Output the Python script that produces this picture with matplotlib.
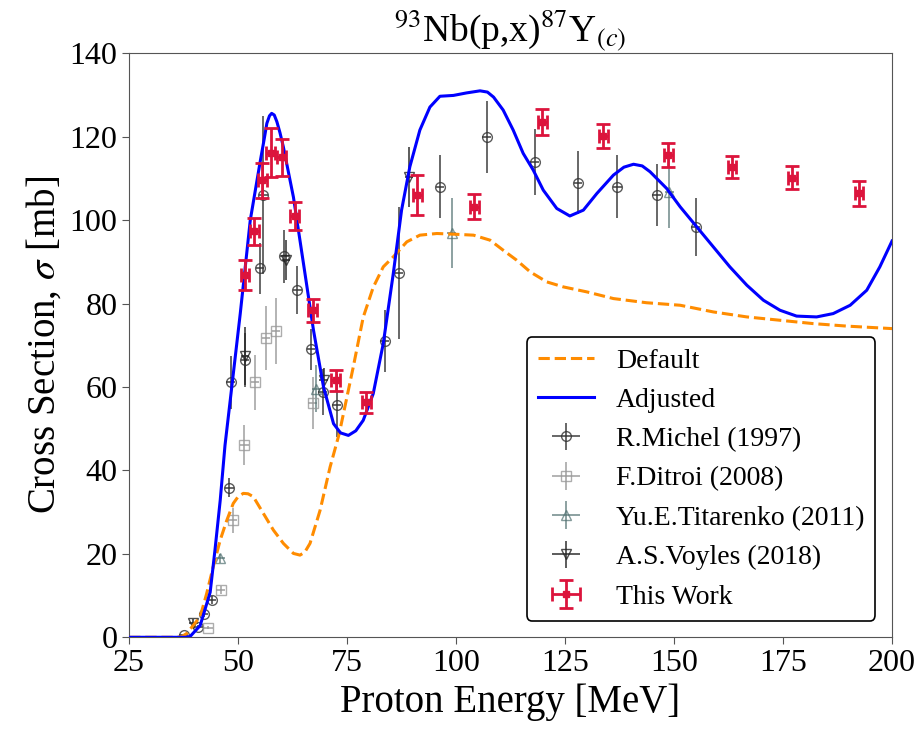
import numpy as np
import matplotlib
matplotlib.use('Agg')
import matplotlib.pyplot as plt

plt.rcParams['font.family'] = ['Liberation Serif', 'DejaVu Serif']
plt.rcParams['mathtext.fontset'] = 'stix'

# model curves
e_default = [25, 30, 35, 37, 38.2, 41.3, 42.8, 44.3, 45.9, 47.4, 48.9, 50.0, 51.2, 52.3, 53.5,
             55.8, 58.1, 60.4, 62.7, 64.2, 65.3, 66.5, 68.8, 71.1, 73.2, 76.4, 78.7, 81.0,
             83.3, 85.6, 88.7, 91.7, 95.6, 100.2, 104.0, 107.8, 110.8, 113.9, 117.0, 120.8,
             124.6, 130.0, 136.1, 143.7, 151.4, 159.0, 166.7, 174.3, 181.9, 189.6, 200.0]
s_default = [0, 0, 0, 0.1, 0.9, 4.9, 10.5, 16.9, 23.3, 28.0, 32.1, 33.7, 34.5, 34.4, 33.7,
             29.7, 25.7, 22.5, 20.1, 19.7, 20.4, 22.5, 30.4, 40.8, 48.8, 64.7, 76.7, 83.9,
             88.8, 91.2, 94.8, 96.4, 96.8, 96.6, 96.4, 95.2, 92.8, 90.4, 87.6, 85.2,
             84.0, 82.8, 81.2, 80.2, 79.6, 78.0, 76.8, 76.0, 75.2, 74.6, 74.0]

e_adjusted = [25, 30, 35, 38, 39.0, 39.7, 41.3, 43.6, 44.7, 45.9, 47.0, 48.2, 50.5, 52.8, 55.0,
              56.0, 56.6, 57.2, 57.7, 58.3, 58.9, 59.6, 60.4, 62.7, 65.0, 67.3, 69.6, 71.9,
              73.5, 75.3, 77.0, 78.7, 81.0, 83.3, 85.6, 87.5, 89.4, 91.7, 94.0, 96.3, 99.4,
              102.4, 105.5, 107.2, 108.6, 110.8, 113.1, 115.4, 117.7, 120.0, 123.1, 126.1,
              129.2, 132.3, 136.1, 138.5, 140.7, 142.7, 144.5, 148.3, 151.4, 155.2, 159.0,
              162.8, 166.7, 170.5, 174.3, 178.1, 182.7, 186.5, 190.4, 194.2, 197.2, 200.0]
s_adjusted = [0, 0, 0, 0, 0.2, 1.0, 2.8, 10.8, 20.9, 32.8, 46.0, 56.8, 77.6, 100.0, 113.6,
              119.5, 123.2, 125.0, 125.6, 125.2, 123.6, 121.0, 117.5, 105.5, 89.6, 73.6, 60.0,
              51.2, 49.0, 48.4, 49.5, 52.0, 58.4, 70.4, 87.2, 102.4, 112.8, 121.6, 127.1,
              129.7, 129.9, 130.5, 131.0, 130.7, 129.5, 126.4, 121.6, 116.0, 112.0, 107.2,
              102.8, 101.0, 102.4, 106.4, 110.8, 112.7, 113.4, 113.0, 111.6, 107.6, 103.2,
              98.4, 93.6, 88.8, 84.4, 80.8, 78.4, 77.0, 76.8, 77.6, 79.6, 83.2, 88.8, 95.0]

# experimental data
michel_e = [37.5, 40.9, 42.1, 44.0, 48.0, 48.3, 51.6, 55.0, 55.8, 60.6, 63.6, 66.7, 69.4,
            72.6, 83.6, 86.9, 96.3, 107.0, 118.0, 128.0, 137.0, 146.0, 155.0]
michel_s = [0.5, 2.5, 5.5, 8.9, 35.9, 61.1, 66.4, 88.5, 106.0, 91.3, 83.3, 69.0, 58.7,
            55.6, 71.0, 87.4, 108.0, 120.0, 114.0, 109.0, 108.0, 106.0, 98.4]
michel_ds = [0.3, 0.5, 0.6, 1.0, 2.3, 6.3, 6.5, 6.1, 19.0, 6.4, 5.8, 4.9, 5.5,
             7.5, 7.4, 15.8, 7.5, 8.6, 7.9, 7.5, 7.6, 7.4, 6.9]

ditroi_e = [43.2, 46.0, 48.8, 51.4, 53.9, 56.4, 58.7, 67.1]
ditroi_s = [2.3, 11.4, 28.0, 46.0, 61.1, 71.8, 73.4, 56.2]
ditroi_ds = [0.4, 1.0, 3.0, 4.8, 6.6, 7.7, 7.9, 6.2]

titarenko_e = [45.9, 67.9, 99.0, 148.9]
titarenko_s = [18.9, 59.6, 97.0, 106.8]
titarenko_ds = [1.0, 5.6, 8.4, 8.6]

voyles_e = [39.7, 51.6, 61.0, 69.6, 89.2]
voyles_s = [3.4, 67.4, 90.4, 61.6, 110.4]
voyles_ds = [1.0, 7.0, 4.8, 3.0, 7.2]

work_e = [51.6, 53.7, 55.6, 57.5, 60.0, 63.0, 67.1, 72.4, 79.4, 91.1, 104.2, 119.8,
          133.8, 148.7, 163.3, 177.1, 192.4]
work_s = [86.8, 97.3, 109.6, 116.2, 115.1, 101.0, 78.4, 61.6, 56.3, 106.0, 103.2, 123.6,
          120.1, 115.6, 112.8, 110.2, 106.4]
work_ds = [3.6, 3.3, 4.2, 5.8, 4.4, 3.4, 2.8, 2.5, 2.6, 4.8, 3.0, 3.1,
           2.9, 2.8, 2.6, 2.8, 2.9]

fig = plt.figure(figsize=(9.22, 7.3), dpi=100)
ax = fig.add_axes([0.140, 0.127, 0.8275, 0.8])

ax.plot(e_default, s_default, '--', color='darkorange', lw=2.2, label='Default', zorder=3)
ax.plot(e_adjusted, s_adjusted, '-', color='blue', lw=2.2, label='Adjusted', zorder=3)

ax.errorbar(michel_e, michel_s, yerr=michel_ds, xerr=1.0, fmt='o', mfc='none',
            mec='#333333', ecolor='#333333', ms=7, mew=1.0, elinewidth=1.3, alpha=0.8,
            label='R.Michel (1997)', zorder=2)
ax.errorbar(ditroi_e, ditroi_s, yerr=ditroi_ds, xerr=1.0, fmt='s', mfc='none',
            mec='#999999', ecolor='#999999', ms=7, mew=1.0, elinewidth=1.3, alpha=0.8,
            label='F.Ditroi (2008)', zorder=2)
ax.errorbar(titarenko_e, titarenko_s, yerr=titarenko_ds, xerr=1.0, fmt='^', mfc='none',
            mec='#4f6f6f', ecolor='#4f6f6f', ms=7, mew=1.0, elinewidth=1.3, alpha=0.7,
            label='Yu.E.Titarenko (2011)', zorder=2)
ax.errorbar(voyles_e, voyles_s, yerr=voyles_ds, xerr=1.0, fmt='v', mfc='none',
            mec='#222222', ecolor='#222222', ms=7, mew=1.0, elinewidth=1.3, alpha=0.8,
            label='A.S.Voyles (2018)', zorder=2)
ax.errorbar(work_e, work_s, yerr=work_ds, xerr=1.0, fmt='s', color='crimson',
            ms=5, elinewidth=2, capsize=5, capthick=2, label='This Work', zorder=4)

ax.set_xlim(25, 200)
ax.set_ylim(0, 140)
ax.set_xticks([25, 50, 75, 100, 125, 150, 175, 200])
ax.set_yticks(np.arange(0, 141, 20))
ax.tick_params(labelsize=23, length=5, color='#555555')
for sp in ax.spines.values():
    sp.set_color('#555555')

ax.set_xlabel('Proton Energy [MeV]', fontsize=28, labelpad=4)
ax.set_ylabel(r'Cross Section, $\sigma$ [mb]', fontsize=28)
ax.set_title(r'$^{93}$Nb(p,x)$^{87}$Y$_{(c)}$', fontsize=27)

leg = ax.legend(loc='lower right', fontsize=20, frameon=True, framealpha=1,
                edgecolor='black', borderaxespad=0.6)
leg.get_frame().set_linewidth(1.2)

fig.savefig('out.png', dpi=100)
